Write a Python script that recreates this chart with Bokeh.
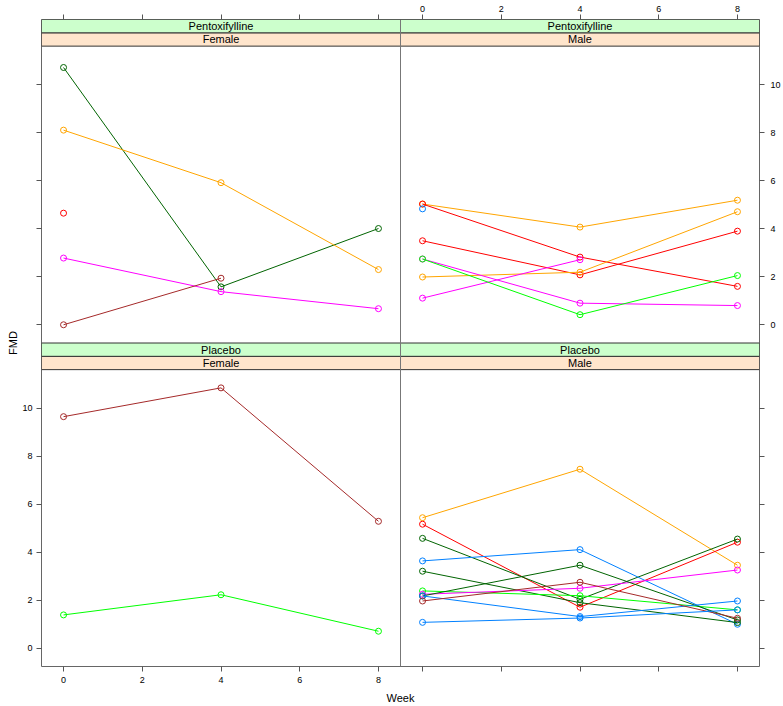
import math
from bokeh.plotting import figure
from bokeh.models import Range1d, LinearAxis, FixedTicker, PrintfTickFormatter, Span
from bokeh.core.properties import value
from bokeh.embed import file_html
from bokeh.resources import INLINE

NAN = float("nan")

# ---------------- data ----------------
weeks = [0, 4, 8]
week_ticks = [0, 2, 4, 6, 8]
fmd_ticks = [0, 2, 4, 6, 8, 10]

BLUE, MAG, DG, RED, ORA, GRN, BRN = "#0080ff", "#ff00ff", "#006400", "#ff0000", "#ffa500", "#00ff00", "#a52a2a"

treatments = ["Pentoxifylline", "Placebo"]
sexes = ["Female", "Male"]

pentox_female_colors = [DG, ORA, RED, MAG, BRN]
pentox_female_values = [
    [10.72, 1.58, 4.01],
    [8.11, 5.92, 2.30],
    [4.65, NAN, NAN],
    [2.78, 1.38, 0.67],
    [0.00, 1.94, NAN],
]

pentox_male_colors = [ORA, RED, BLUE, RED, ORA, MAG, MAG, GRN]
pentox_male_values = [
    [5.03, 4.07, 5.19],
    [5.03, 2.82, 1.60],
    [4.83, NAN, NAN],
    [3.50, 2.08, 3.90],
    [1.99, 2.19, 4.71],
    [1.11, 2.71, NAN],
    [2.74, 0.90, 0.80],
    [2.74, 0.42, 2.05],
]

placebo_female_colors = [BRN, GRN]
placebo_female_values = [
    [9.65, 10.85, 5.29],
    [1.39, 2.23, 0.71],
]

placebo_male_colors = [ORA, RED, DG, BLUE, DG, GRN, MAG, DG, BLUE, BRN, BLUE]
placebo_male_values = [
    [5.44, 7.46, 3.46],
    [5.17, 1.71, 4.42],
    [4.58, 2.04, 4.55],
    [3.64, 4.11, 1.00],
    [3.21, 1.90, 1.07],
    [2.39, 2.19, 1.60],
    [2.25, 2.50, 3.26],
    [2.18, 3.46, 1.18],
    [2.18, 1.32, 1.97],
    [1.97, 2.75, 1.25],
    [1.08, 1.26, 1.60],
]

# ---------------- ranges (lattice style padding 7%) ----------------
allv = [v for vals in (pentox_female_values, pentox_male_values, placebo_female_values, placebo_male_values)
        for row in vals for v in row if not math.isnan(v)]
ymin, ymax = min(allv), max(allv)
pad_y = 0.07 * (ymax - ymin)
ylo, yhi = ymin - pad_y, ymax + pad_y
pad_x = 0.07 * (max(weeks) - min(weeks))
xlo, xhi = min(weeks) - pad_x, max(weeks) + pad_x
xspan = xhi - xlo
strip_u = 0.555
rowspan = (yhi - ylo) + 2 * strip_u

p = figure(width=783, height=706, output_backend="svg", toolbar_location=None,
           x_range=Range1d(xlo, xlo + 2 * xspan), y_range=Range1d(ylo, ylo + 2 * rowspan),
           x_axis_location=None, y_axis_location=None,
           min_border_left=41, min_border_right=24, min_border_top=19, min_border_bottom=39)
p.extra_x_ranges = {"xr": Range1d(xlo - xspan, xlo + xspan)}
p.extra_y_ranges = {"yt": Range1d(ylo - rowspan, ylo + rowspan)}
p.grid.visible = False
p.outline_line_color = "#666666"
p.outline_line_width = 1
p.background_fill_color = "white"
p.border_fill_color = "white"

FONT = "Liberation Sans"


def style_axis(ax):
    ax.axis_line_color = None
    ax.major_tick_in = 0
    ax.major_tick_out = 5
    ax.major_tick_line_color = "#555555"
    ax.minor_tick_line_color = None
    ax.major_label_text_font = FONT
    ax.major_label_text_font_size = "9px"
    ax.major_label_text_color = "black"
    ax.axis_label_text_font = FONT
    ax.axis_label_text_font_size = "11px"
    ax.axis_label_text_font_style = "normal"
    ax.axis_label_text_color = "black"
    ax.formatter = PrintfTickFormatter(format="%d")


# bottom axis: left column labelled, right column ticks only
blank_b = [t + xspan for t in week_ticks]
ax_b = LinearAxis(ticker=FixedTicker(ticks=week_ticks + blank_b), axis_label="Week")
style_axis(ax_b)
ax_b.major_label_overrides = {t: "" for t in blank_b}
ax_b.major_label_standoff = 5
ax_b.axis_label_standoff = 6
p.add_layout(ax_b, "below")

# top axis: right column labelled, left column ticks only
blank_t = [t - xspan for t in week_ticks]
ax_t = LinearAxis(x_range_name="xr", ticker=FixedTicker(ticks=blank_t + week_ticks))
style_axis(ax_t)
ax_t.major_label_overrides = {t: "" for t in blank_t}
ax_t.major_label_standoff = 3
p.add_layout(ax_t, "above")

# left axis: bottom row labelled, top row ticks only
blank_l = [t + rowspan for t in fmd_ticks]
ax_l = LinearAxis(ticker=FixedTicker(ticks=fmd_ticks + blank_l), axis_label="FMD")
style_axis(ax_l)
ax_l.major_label_overrides = {t: "" for t in blank_l}
ax_l.major_label_standoff = 4
ax_l.axis_label_standoff = 0
p.add_layout(ax_l, "left")

# right axis: top row labelled, bottom row ticks only
blank_r = [t - rowspan for t in fmd_ticks]
ax_r = LinearAxis(y_range_name="yt", ticker=FixedTicker(ticks=blank_r + fmd_ticks))
style_axis(ax_r)
ax_r.major_label_overrides = {t: "" for t in blank_r}
ax_r.major_label_standoff = 6
p.add_layout(ax_r, "right")

# column divider
p.add_layout(Span(location=xlo + xspan, dimension="height", line_color="#777777", line_width=1))

panels = [
    ("default", "yt", treatments[0], sexes[0], pentox_female_colors, pentox_female_values),
    ("xr", "yt", treatments[0], sexes[1], pentox_male_colors, pentox_male_values),
    ("default", "default", treatments[1], sexes[0], placebo_female_colors, placebo_female_values),
    ("xr", "default", treatments[1], sexes[1], placebo_male_colors, placebo_male_values),
]

for xr, yr, treat, sex, colors, values in panels:
    # strips
    p.quad(left=[xlo], right=[xhi], bottom=[yhi], top=[yhi + strip_u],
           fill_color="#ffe5cc", line_color="#333333", line_width=1,
           x_range_name=xr, y_range_name=yr)
    p.quad(left=[xlo], right=[xhi], bottom=[yhi + strip_u], top=[yhi + 2 * strip_u],
           fill_color="#ccffcc", line_color="#333333", line_width=1,
           x_range_name=xr, y_range_name=yr)
    xc = (xlo + xhi) / 2
    p.text(x=[xc, xc], y=[yhi + strip_u / 2, yhi + 1.5 * strip_u], text=[sex, treat],
           text_font=value(FONT), text_font_size="11px", text_color="black",
           text_align="center", text_baseline="middle",
           x_range_name=xr, y_range_name=yr)
    for c, vals in zip(colors, values):
        p.line(weeks, vals, line_color=c, line_width=1, x_range_name=xr, y_range_name=yr)
        p.scatter(weeks, vals, marker="circle", size=6, fill_color=None, line_color=c,
                  line_width=1, x_range_name=xr, y_range_name=yr)

open("out.html", "w").write(file_html(p, INLINE))
